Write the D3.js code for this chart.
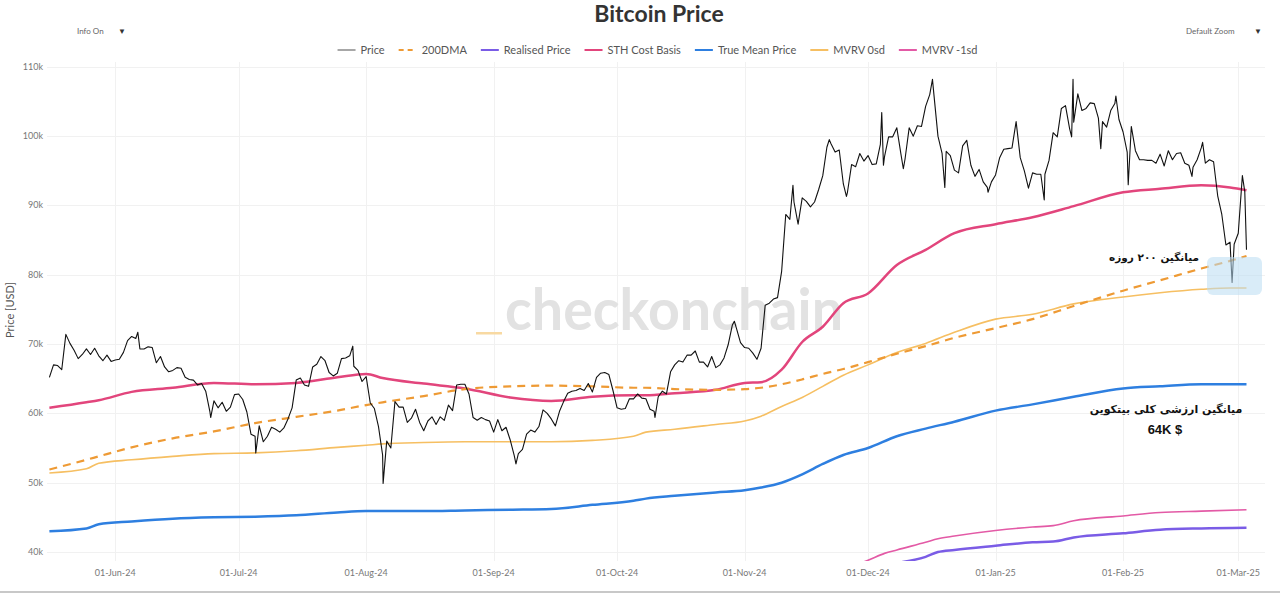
<!DOCTYPE html>
<html>
<head>
<meta charset="utf-8">
<script src="https://cdn.jsdelivr.net/npm/d3@7"></script>
<style>
  html, body { margin: 0; padding: 0; background: #fff; }
  svg { display: block; }
</style>
</head>
<body>
<svg id="chart" width="1280" height="594"></svg>
<script>
// ---------------- DATA (values in thousands of USD) ----------------
const priceStartDate = "2024-05-16";
// daily prices from 16-May-2024 to 03-Mar-2025
const priceValues = [
  // May 16-31
  65.2, 67.0, 66.9, 66.3, 71.4, 70.1, 69.1, 67.9, 68.5, 69.3, 68.5, 69.4, 68.3, 67.6, 68.4, 67.5,
  // Jun
  67.7, 67.8, 68.8, 70.5, 71.1, 70.8, 69.3, 69.3, 69.6, 69.5, 67.3, 68.2, 66.7, 66.0, 66.2,
  66.6, 66.5, 65.2, 64.9, 64.8, 64.1, 64.3, 63.2, 60.3, 61.8, 60.8, 61.6, 60.3, 60.9, 62.7,
  // Jul
  62.8, 62.0, 60.2, 57.0, 56.7, 58.2, 55.9, 56.7, 58.0, 57.7, 57.3, 57.9, 59.2, 60.8, 64.8,
  65.1, 64.1, 63.9, 66.7, 67.1, 68.2, 67.6, 65.9, 65.4, 65.8, 67.9, 68.0, 68.3, 66.8, 66.2, 64.6,
  // Aug
  65.3, 61.5, 60.7, 58.1, 54.0, 56.0, 55.0, 61.7, 60.9, 60.9, 58.7, 59.3, 60.6, 58.7, 57.5,
  58.9, 59.5, 58.4, 59.5, 59.0, 61.2, 60.4, 64.1, 64.2, 64.2, 62.8, 59.4, 59.0, 59.4, 59.1, 58.9,
  // Sep
  57.3, 59.1, 57.5, 58.0, 56.2, 53.9, 54.2, 54.8, 57.0, 57.6, 57.3, 58.1, 60.5, 60.0, 59.2,
  58.2, 60.3, 61.7, 62.9, 63.2, 63.3, 63.6, 63.3, 64.3, 63.1, 65.2, 65.8, 65.9, 65.6, 63.3,
  // Oct
  60.8, 60.6, 60.7, 62.1, 62.1, 62.8, 62.2, 62.1, 60.6, 60.3, 62.4, 63.2, 62.8, 66.0, 67.0,
  67.6, 67.4, 68.4, 68.4, 69.0, 67.4, 67.4, 66.7, 68.2, 66.6, 67.0, 68.0, 69.9, 72.7, 72.3, 70.2,
  // Nov
  69.5, 69.4, 68.7, 67.8, 69.4, 75.6, 75.9, 76.5, 76.7, 80.5, 88.7, 88.0, 90.5, 87.3, 91.1,
  90.6, 89.8, 90.5, 92.3, 94.3, 98.4, 98.9, 97.7, 98.0, 93.1, 91.9, 95.9, 95.6, 97.5, 96.4,
  // Dec
  97.2, 95.9, 96.0, 98.8, 97.0, 99.9, 99.9, 101.2, 97.4, 96.7, 101.2, 100.0, 101.5, 101.4, 104.3,
  106.0, 106.1, 100.0, 97.5, 97.8, 97.2, 95.1, 94.7, 98.6, 99.4, 95.8, 94.2, 95.2, 93.4, 92.6, 93.4,
  // Jan
  94.4, 96.9, 98.1, 98.2, 98.3, 102.1, 96.9, 95.0, 92.5, 94.7, 94.5, 94.5, 94.5, 96.5, 100.5,
  99.9, 104.0, 104.4, 101.1, 102.0, 106.1, 103.7, 104.0, 104.8, 104.7, 102.6, 102.1, 101.3, 103.7, 104.7, 102.4,
  // Feb
  100.6, 97.7, 101.4, 97.9, 96.6, 96.6, 96.5, 96.5, 96.1, 97.4, 95.7, 97.9, 96.6, 97.5,
  97.6, 96.1, 95.8, 95.5, 96.6, 98.3, 96.1, 96.6, 96.3, 91.4, 88.7, 84.3, 84.7, 84.4,
  // Mar 1-3
  86.0, 94.3, 83.6
];
// intraday extremes
const spikeTimes = [
  "2024-06-06T12:00", "2024-06-24T05:00", "2024-07-05T04:00", "2024-07-28T18:00",
  "2024-08-05T03:00", "2024-09-06T10:00", "2024-10-10T05:00", "2024-10-29T12:00",
  "2024-11-12T18:00", "2024-11-21T14:00", "2024-11-25T18:00", "2024-12-04T08:00",
  "2024-12-04T18:00", "2024-12-09T14:00", "2024-12-16T16:00", "2024-12-19T16:00",
  "2024-12-30T04:00", "2025-01-12T20:00", "2025-01-19T12:00", "2025-01-19T20:00",
  "2025-01-26T14:00", "2025-01-30T06:00", "2025-02-02T06:00", "2025-02-17T18:00",
  "2025-02-20T08:00", "2025-02-27T12:00", "2025-03-02T14:00"
];
const spikeValues = [
  71.7, 59.4, 54.3, 69.7,
  49.9, 52.7, 59.4, 73.3,
  92.9, 99.5, 91.3, 103.4,
  95.8, 95.3, 108.2, 92.6,
  91.9, 90.8, 99.9, 108.2,
  98.2, 105.8, 93.0, 94.2,
  99.1, 78.9, 92.0
];

const metricDates = [
  "2024-05-16", "2024-05-25", "2024-05-28", "2024-06-05", "2024-06-15", "2024-06-25",
  "2024-07-05", "2024-07-15", "2024-07-25", "2024-08-01", "2024-08-05", "2024-08-15",
  "2024-08-25", "2024-09-05", "2024-09-15", "2024-09-25", "2024-10-05", "2024-10-08",
  "2024-10-15", "2024-10-25", "2024-11-01", "2024-11-05", "2024-11-10", "2024-11-15",
  "2024-11-20", "2024-11-25", "2024-12-01", "2024-12-08", "2024-12-15", "2024-12-22",
  "2025-01-01", "2025-01-10", "2025-01-20", "2025-02-01", "2025-02-10", "2025-02-20",
  "2025-02-27", "2025-03-03"
];
const sthCostBasis = [
  60.8, 61.6, 61.9, 63.1, 63.7, 64.4,
  64.2, 64.4, 65.2, 65.7, 65.1, 64.3,
  63.6, 62.3, 61.8, 62.4, 62.6, 62.6,
  62.9, 63.4, 64.4, 64.5, 66.3, 70.3,
  72.5, 75.9, 77.3, 81.4, 83.6, 86.0,
  87.3, 88.3, 89.9, 91.9, 92.4, 92.9,
  92.6, 92.2
];
const dma200 = [
  51.9, 53.3, 53.8, 55.1, 56.4, 57.4,
  58.6, 59.5, 60.4, 61.2, 61.6, 62.5,
  63.5, 63.9, 64.0, 63.9, 63.7, 63.7,
  63.5, 63.4, 63.5, 63.7, 64.2, 64.9,
  65.7, 66.4, 67.4, 68.6, 69.7, 70.9,
  72.3, 73.6, 75.5, 77.7, 79.2, 80.9,
  82.0, 82.7
];
const mvrv0sd = [
  51.4, 52.0, 52.8, 53.3, 53.8, 54.2,
  54.3, 54.6, 55.1, 55.4, 55.6, 55.8,
  55.9, 55.9, 55.9, 56.1, 56.7, 57.3,
  57.7, 58.4, 58.9, 59.6, 61.0, 62.3,
  63.9, 65.5, 67.0, 68.8, 70.1, 71.7,
  73.6, 74.3, 75.8, 76.8, 77.4, 77.9,
  78.1, 78.1
];
const trueMeanPrice = [
  43.0, 43.4, 44.0, 44.4, 44.8, 45.0,
  45.1, 45.3, 45.7, 45.9, 45.9, 45.9,
  46.0, 46.1, 46.2, 46.8, 47.4, 47.7,
  48.1, 48.6, 48.9, 49.3, 50.0, 51.2,
  52.7, 54.0, 55.0, 56.7, 57.8, 58.8,
  60.4, 61.3, 62.4, 63.6, 63.9, 64.2,
  64.2, 64.2
];
const lowDates = [
  "2024-11-25", "2024-12-01", "2024-12-05", "2024-12-08", "2024-12-15", "2024-12-18",
  "2024-12-22", "2025-01-01", "2025-01-10", "2025-01-15", "2025-01-20", "2025-02-01",
  "2025-02-10", "2025-02-20", "2025-03-03"
];
const mvrvMinus1sd = [37.6, 38.8, 39.8, 40.3, 41.4, 41.9, 42.3, 43.1, 43.6, 43.8, 44.5, 45.2, 45.7, 45.9, 46.1];
const realisedPrice = [36.8, 37.6, 38.1, 38.4, 39.3, 40.0, 40.3, 40.9, 41.4, 41.5, 42.1, 42.7, 43.2, 43.4, 43.5];

const yTicks = [40, 50, 60, 70, 80, 90, 100, 110];
const xTickDates = ["2024-06-01", "2024-07-01", "2024-08-01", "2024-09-01", "2024-10-01",
  "2024-11-01", "2024-12-01", "2025-01-01", "2025-02-01", "2025-03-01"];

const legendLabels = ["Price", "200DMA", "Realised Price", "STH Cost Basis", "True Mean Price", "MVRV 0sd", "MVRV -1sd"];
const titleText = "Bitcoin Price";
const yAxisTitle = "Price [USD]";
const noteDma = "میانگین ۲۰۰ روزه";
const noteMean = "میانگین ارزشی کلی بیتکوین";
const noteMeanValue = "64K $";

// ---------------- DRAWING ----------------
const parse = d3.utcParse("%Y-%m-%d");
const parseT = d3.utcParse("%Y-%m-%dT%H:%M");
const svg = d3.select("#chart");
const W = 1280, H = 594;
const plot = { left: 47, right: 1265, top: 62, bottom: 561 };

const x = d3.scaleUtc()
  .domain([parseT("2024-05-15T10:00"), parseT("2025-03-07T12:00")])
  .range([plot.left, plot.right]);
const y = d3.scaleLinear().domain([38.7, 110.7]).range([plot.bottom, plot.top]);

const colors = {
  price: "#111111",
  dma: "#ee9a34",
  realised: "#7a5ce6",
  sth: "#e2457c",
  trueMean: "#2e7fe0",
  mvrv0: "#f6bf62",
  mvrvM1: "#e35aa6"
};

const font = "Lato, 'Open Sans', sans-serif";

// clip
svg.append("defs").append("clipPath").attr("id", "plotClip")
  .append("rect").attr("x", plot.left).attr("y", plot.top)
  .attr("width", plot.right - plot.left).attr("height", plot.bottom - plot.top);

// grid
const grid = svg.append("g");
grid.selectAll("line.h").data(yTicks).enter().append("line")
  .attr("x1", plot.left).attr("x2", plot.right)
  .attr("y1", d => Math.round(y(d)) + 0.5).attr("y2", d => Math.round(y(d)) + 0.5)
  .attr("stroke", "#f1f1f1").attr("stroke-width", 1);
grid.selectAll("line.v").data(xTickDates.map(parse)).enter().append("line")
  .attr("y1", plot.top).attr("y2", plot.bottom)
  .attr("x1", d => Math.round(x(d)) + 0.5).attr("x2", d => Math.round(x(d)) + 0.5)
  .attr("stroke", "#f1f1f1").attr("stroke-width", 1);

// watermark
svg.append("text")
  .attr("x", 505).attr("y", 330)
  .attr("textLength", 338).attr("lengthAdjust", "spacingAndGlyphs")
  .attr("font-family", font).attr("font-weight", 700).attr("font-size", 58)
  .attr("fill", "#e2e2e2").text("checkonchain");
svg.append("rect").attr("x", 476).attr("y", 332).attr("width", 26).attr("height", 2.5)
  .attr("fill", "#f8d9a2");

// axes labels
svg.append("g").selectAll("text").data(yTicks).enter().append("text")
  .attr("x", 43).attr("y", d => y(d) + 3)
  .attr("text-anchor", "end")
  .attr("font-family", font).attr("font-size", 9).attr("fill", "#777")
  .text(d => d + "k");

const fmt = d3.utcFormat("%d-%b-%y");
svg.append("g").selectAll("text").data(xTickDates.map(parse)).enter().append("text")
  .attr("x", d => x(d)).attr("y", 576)
  .attr("text-anchor", "middle")
  .attr("font-family", font).attr("font-size", 9).attr("fill", "#777")
  .text(d => fmt(d));

svg.append("text")
  .attr("transform", "translate(14,310) rotate(-90)")
  .attr("text-anchor", "middle")
  .attr("font-family", font).attr("font-size", 11).attr("fill", "#555")
  .text(yAxisTitle);

// series
const g = svg.append("g").attr("clip-path", "url(#plotClip)");
const smooth = d3.line().x(d => x(d[0])).y(d => y(d[1])).curve(d3.curveMonotoneX);
const straight = d3.line().x(d => x(d[0])).y(d => y(d[1]));

const mDates = metricDates.map(parse);
const lDates = lowDates.map(parse);
const zipM = arr => mDates.map((d, i) => [d, arr[i]]);
const zipL = arr => lDates.map((d, i) => [d, arr[i]]);

g.append("path").attr("d", smooth(zipL(realisedPrice)))
  .attr("fill", "none").attr("stroke", colors.realised).attr("stroke-width", 2.5);
g.append("path").attr("d", smooth(zipL(mvrvMinus1sd)))
  .attr("fill", "none").attr("stroke", colors.mvrvM1).attr("stroke-width", 1.6);
g.append("path").attr("d", smooth(zipM(trueMeanPrice)))
  .attr("fill", "none").attr("stroke", colors.trueMean).attr("stroke-width", 2.5);
g.append("path").attr("d", smooth(zipM(mvrv0sd)))
  .attr("fill", "none").attr("stroke", colors.mvrv0).attr("stroke-width", 1.6);
g.append("path").attr("d", smooth(zipM(sthCostBasis)))
  .attr("fill", "none").attr("stroke", colors.sth).attr("stroke-width", 2.5);
g.append("path").attr("d", smooth(zipM(dma200)))
  .attr("fill", "none").attr("stroke", colors.dma).attr("stroke-width", 2.2)
  .attr("stroke-dasharray", "8,6");

// price
const start = parse(priceStartDate);
const pricePts = priceValues.map((v, i) => [d3.utcDay.offset(start, i), v])
  .concat(spikeTimes.map((t, i) => [parseT(t), spikeValues[i]]))
  .sort((a, b) => a[0] - b[0]);
g.append("path").attr("d", straight(pricePts))
  .attr("fill", "none").attr("stroke", colors.price).attr("stroke-width", 1.1)
  .attr("stroke-linejoin", "round");

// highlight box
svg.append("rect").attr("x", 1207).attr("y", 257).attr("width", 55).attr("height", 38)
  .attr("rx", 6).attr("fill", "#b9dcf3").attr("opacity", 0.55);

// annotations
const pfont = "'DejaVu Sans', sans-serif";
svg.append("text").attr("x", 1154).attr("y", 261).attr("text-anchor", "middle")
  .attr("direction", "rtl")
  .attr("font-family", pfont).attr("font-weight", 700).attr("font-size", 10.5).attr("fill", "#111")
  .text(noteDma);
svg.append("text").attr("x", 1166).attr("y", 413).attr("text-anchor", "middle")
  .attr("direction", "rtl")
  .attr("font-family", pfont).attr("font-weight", 700).attr("font-size", 11).attr("fill", "#111")
  .text(noteMean);
svg.append("text").attr("x", 1165).attr("y", 434).attr("text-anchor", "middle")
  .attr("font-family", "'Liberation Sans', Arial, sans-serif").attr("font-weight", 700).attr("font-size", 13).attr("fill", "#111")
  .text(noteMeanValue);

// title
svg.append("text").attr("x", 659).attr("y", 22).attr("text-anchor", "middle")
  .attr("font-family", font).attr("font-weight", 700).attr("font-size", 23).attr("fill", "#333")
  .text(titleText);

// legend
const legendColors = [colors.price, colors.dma, colors.realised, colors.sth, colors.trueMean, colors.mvrv0, colors.mvrvM1];
const lg = svg.append("g");
let cx = 0;
legendLabels.forEach((lab, i) => {
  const it = lg.append("g");
  it.append("line").attr("x1", 0).attr("x2", 18).attr("y1", 0).attr("y2", 0)
    .attr("stroke", i === 0 ? "#777" : legendColors[i]).attr("stroke-width", i === 0 ? 1.3 : 2)
    .attr("stroke-dasharray", i === 1 ? "5,4" : null);
  const t = it.append("text").attr("x", 23).attr("y", 4)
    .attr("font-family", font).attr("font-size", 11).attr("fill", "#555").text(lab);
  const w = 23 + t.node().getComputedTextLength();
  it.attr("transform", `translate(${cx},50)`);
  cx += w + 14;
});
const totalW = cx - 14;
lg.attr("transform", `translate(${657.5 - totalW / 2},0)`);

// dropdowns
svg.append("text").attr("x", 77).attr("y", 34)
  .attr("font-family", font).attr("font-size", 8).attr("fill", "#666").text("Info On");
svg.append("text").attr("x", 118).attr("y", 34)
  .attr("font-family", font).attr("font-size", 8).attr("fill", "#333").text("▼");
svg.append("text").attr("x", 1186).attr("y", 34)
  .attr("font-family", font).attr("font-size", 8).attr("fill", "#666").text("Default Zoom");
svg.append("text").attr("x", 1254).attr("y", 34)
  .attr("font-family", font).attr("font-size", 8).attr("fill", "#333").text("▼");

// bottom border
svg.append("line").attr("x1", 0).attr("x2", W).attr("y1", 592).attr("y2", 592)
  .attr("stroke", "#c8c8c8").attr("stroke-width", 2);
</script>
</body>
</html>
